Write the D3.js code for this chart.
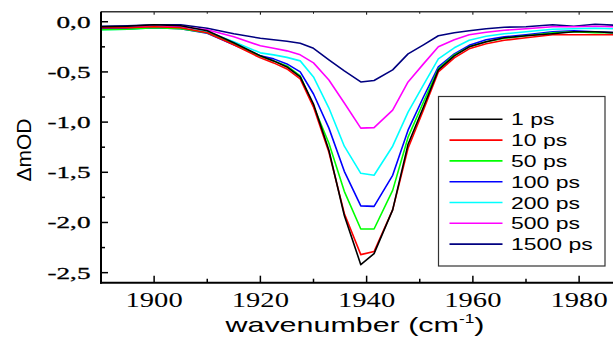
<!DOCTYPE html>
<html><head><meta charset="utf-8">
<script src="https://cdn.jsdelivr.net/npm/d3@7"></script>
<style>html,body{margin:0;padding:0;background:#fff;overflow:hidden}svg{display:block}</style>
</head><body><svg id="c" width="613" height="339"></svg>
<script>
const wavenumber = [1890,1895,1900,1905,1910,1915,1920,1922.5,1925,1927.5,1930,1932.9,1935.8,1938.9,1941.4,1944.9,1947.8,1950.7,1953.5,1956.5,1959.3,1962.5,1965.9,1970,1975,1979,1983,1987];
const s1ps    = [-0.05,-0.045,-0.03,-0.04,-0.09,-0.21,-0.34,-0.39,-0.45,-0.55,-0.82,-1.28,-1.93,-2.42,-2.31,-1.875,-1.22,-0.85,-0.48,-0.34,-0.25,-0.20,-0.16,-0.14,-0.12,-0.10,-0.10,-0.11];
const s10ps   = [-0.06,-0.06,-0.05,-0.06,-0.11,-0.23,-0.36,-0.41,-0.47,-0.57,-0.85,-1.30,-1.91,-2.32,-2.29,-1.875,-1.26,-0.88,-0.50,-0.36,-0.27,-0.22,-0.185,-0.16,-0.13,-0.13,-0.13,-0.13];
const s50ps   = [-0.08,-0.075,-0.06,-0.07,-0.11,-0.22,-0.345,-0.39,-0.44,-0.54,-0.84,-1.21,-1.69,-2.065,-2.065,-1.68,-1.15,-0.80,-0.47,-0.33,-0.25,-0.20,-0.165,-0.14,-0.11,-0.10,-0.11,-0.11];
const s100ps  = [-0.07,-0.07,-0.06,-0.07,-0.115,-0.23,-0.34,-0.37,-0.42,-0.50,-0.72,-1.06,-1.49,-1.835,-1.84,-1.53,-1.08,-0.75,-0.45,-0.32,-0.235,-0.18,-0.15,-0.13,-0.10,-0.09,-0.10,-0.11];
const s200ps  = [-0.08,-0.075,-0.06,-0.065,-0.10,-0.20,-0.31,-0.33,-0.355,-0.39,-0.55,-0.86,-1.24,-1.51,-1.53,-1.24,-0.90,-0.63,-0.37,-0.26,-0.185,-0.145,-0.12,-0.10,-0.075,-0.07,-0.065,-0.07];
const s500ps  = [-0.06,-0.055,-0.045,-0.05,-0.08,-0.15,-0.24,-0.265,-0.29,-0.33,-0.41,-0.58,-0.81,-1.06,-1.055,-0.88,-0.60,-0.42,-0.25,-0.18,-0.13,-0.105,-0.085,-0.07,-0.05,-0.05,-0.045,-0.05];
const s1500ps = [-0.045,-0.04,-0.03,-0.03,-0.065,-0.12,-0.165,-0.18,-0.195,-0.215,-0.265,-0.38,-0.49,-0.60,-0.585,-0.48,-0.32,-0.23,-0.14,-0.11,-0.09,-0.07,-0.055,-0.05,-0.03,-0.045,-0.025,-0.035];
const seriesNames = ["1 ps","10 ps","50 ps","100 ps","200 ps","500 ps","1500 ps"];
const seriesValues = [s1ps,s10ps,s50ps,s100ps,s200ps,s500ps,s1500ps];
const seriesColors = ["#000000","#ff0000","#00ff00","#0000ff","#00ffff","#ff00ff","#000080"];
const xTickValues = [1900,1920,1940,1960,1980];
const yTickValues = [0,-0.5,-1.0,-1.5,-2.0,-2.5];
const yTickLabels = ["0,0","-0,5","-1,0","-1,5","-2,0","-2,5"];

const svg = d3.select("#c");
const L = 101, T = 11.7, B = 282.7;
const x = d3.scaleLinear().domain([1890, 1987]).range([L, L + 97 * 5.3125]);
const y = d3.scaleLinear().domain([-2.6, 0.1]).range([B, T]);
const R = x(1987);

function stretch(sel, sx) {
  sel.each(function() {
    const len = this.getComputedTextLength();
    d3.select(this).attr("textLength", len * sx).attr("lengthAdjust", "spacingAndGlyphs");
  });
}

svg.append("clipPath").attr("id", "clip").append("rect")
  .attr("x", L).attr("y", T).attr("width", R - L).attr("height", B - T);

const line = d3.line().x((d, i) => x(wavenumber[i])).y(d => y(d));
const g = svg.append("g").attr("clip-path", "url(#clip)");
seriesValues.slice().reverse().forEach((vals, k) => {
  const i = seriesValues.length - 1 - k;
  g.append("path").datum(vals).attr("d", line)
    .attr("fill", "none").attr("stroke", seriesColors[i]).attr("stroke-width", 1.6)
    .attr("stroke-linejoin", "round");
});

// axes
const xMinor = d3.range(1890, 1990, 10);
const yMinor = d3.range(-2.5, 0.01, 0.25);
const axG = svg.append("g").attr("stroke", "#000");
axG.selectAll(".xb").data(xMinor).join("line")
  .attr("x1", d => x(d)).attr("x2", d => x(d))
  .attr("y1", B).attr("y2", d => B - (d % 20 === 0 ? 7 : 4)).attr("stroke-width", 1.5);
axG.selectAll(".xt").data(xMinor).join("line")
  .attr("x1", d => x(d)).attr("x2", d => x(d))
  .attr("y1", T).attr("y2", d => T + (d % 20 === 0 ? 3 : 2)).attr("stroke-width", 1);
axG.selectAll(".yl").data(yMinor).join("line")
  .attr("x1", L).attr("x2", d => L + (Math.abs(d * 2 - Math.round(d * 2)) < 1e-6 ? 7 : 4))
  .attr("y1", d => y(d)).attr("y2", d => y(d)).attr("stroke-width", 1.5);
svg.append("line").attr("x1", L).attr("x2", R).attr("y1", T).attr("y2", T).attr("stroke", "#333").attr("stroke-width", 1.5);
svg.append("line").attr("x1", L - 1).attr("x2", R).attr("y1", B).attr("y2", B).attr("stroke", "#000").attr("stroke-width", 2);
svg.append("line").attr("x1", L).attr("x2", L).attr("y1", T).attr("y2", B + 1).attr("stroke", "#000").attr("stroke-width", 2);

// tick labels
const yl = svg.selectAll(".ylab").data(yTickValues).join("text")
  .attr("x", 90.5).attr("y", d => y(d)).attr("dy", "0.35em")
  .attr("text-anchor", "end").attr("font-family", "Liberation Serif").attr("font-size", 17)
  .attr("stroke", "#000").attr("stroke-width", 0.3)
  .text((d, i) => yTickLabels[i]);
stretch(yl, 1.6);
const xl = svg.selectAll(".xlab").data(xTickValues).join("text")
  .attr("x", d => x(d)).attr("y", 307)
  .attr("text-anchor", "middle").attr("font-family", "Liberation Serif").attr("font-size", 22)
  .text(d => d);
stretch(xl, 1.3);

// axis titles
const xt = svg.append("text").attr("x", 355).attr("y", 332).attr("text-anchor", "middle")
  .attr("font-family", "Liberation Sans").attr("font-size", 21);
xt.append("tspan").text("wavenumber (cm");
xt.append("tspan").attr("font-size", 12).attr("dy", -9).text("-1");
xt.append("tspan").attr("dy", 9).text(")");
xt.attr("textLength", 259).attr("lengthAdjust", "spacingAndGlyphs");

svg.append("text").attr("transform", "translate(30.5,150) rotate(-90)")
  .attr("text-anchor", "middle").attr("font-family", "Liberation Sans").attr("font-size", 21)
  .text("\u0394mOD");

// legend
const lg = svg.append("g");
lg.append("rect").attr("x", 438.5).attr("y", 96.5).attr("width", 166.5).attr("height", 169.5)
  .attr("fill", "#fff").attr("stroke", "#333").attr("stroke-width", 1.2);
seriesNames.forEach((n, i) => {
  const yy = 119.3 + i * 20.8;
  lg.append("line").attr("x1", 449.5).attr("x2", 502.5).attr("y1", yy).attr("y2", yy)
    .attr("stroke", seriesColors[i]).attr("stroke-width", 1.6);
  const t = lg.append("text").attr("x", 511).attr("y", yy).attr("dy", "0.36em")
    .attr("font-family", "Liberation Sans").attr("font-size", 17).text(n);
  stretch(t, 1.35);
});
</script></body></html>
